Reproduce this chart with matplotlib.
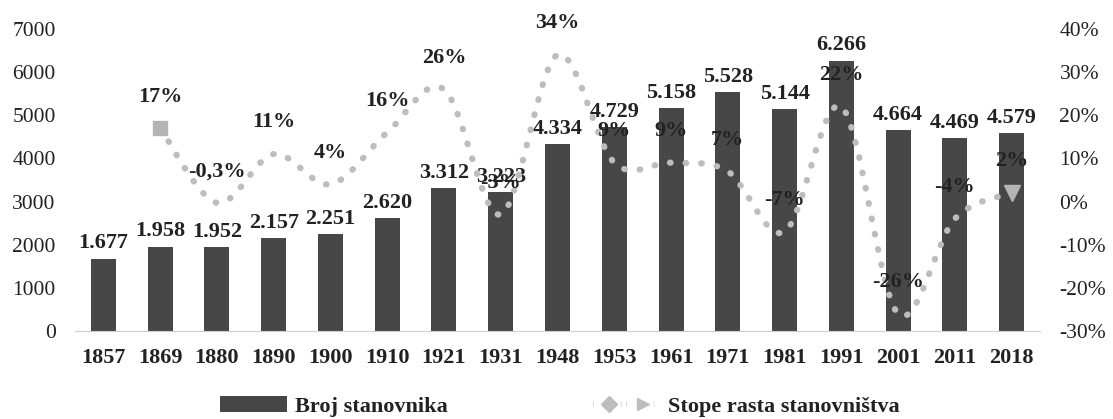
import matplotlib
matplotlib.use('Agg')
import matplotlib.pyplot as plt
from matplotlib.path import Path
from matplotlib.patches import PathPatch, Patch
from matplotlib.lines import Line2D
from matplotlib.legend_handler import HandlerTuple

years = ['1857', '1869', '1880', '1890', '1900', '1910', '1921', '1931', '1948',
         '1953', '1961', '1971', '1981', '1991', '2001', '2011', '2018']
population = [1677, 1958, 1952, 2157, 2251, 2620, 3312, 3223, 4334,
              4729, 5158, 5528, 5144, 6266, 4664, 4469, 4579]
# growth rate, from 1869 on (percent)
growth = [17, -0.3, 11, 4, 16, 26, -3, 34, 9, 9, 7, -7, 22, -26, -4, 2]
growth_labels = ['17%', '-0,3%', '11%', '4%', '16%', '26%', '-3%', '34%', '9%',
                 '9%', '7%', '-7%', '22%', '-26%', '-4%', '2%']

plt.rcParams['font.family'] = ['Liberation Serif', 'DejaVu Serif']

bar_col = '#474747'
line_col = '#bdbdbd'
dots = (0, (0.1, 2.4))

fig = plt.figure(figsize=(11.13, 4.19), dpi=100)
ax = fig.add_axes([0.0674, 0.21, 0.867, 0.721])
ax2 = ax.twinx()

x = list(range(len(years)))
ax.bar(x, population, width=0.44, color=bar_col, zorder=2)
for xi, v in zip(x, population):
    lbl = '{:,}'.format(v).replace(',', '.')
    ax.text(xi, v + 120, lbl, ha='center', va='bottom', fontsize=16,
            fontweight='bold', color='#222222', zorder=5)

ax.set_ylim(0, 7000)
ax.set_yticks(range(0, 7001, 1000))
ax.set_xlim(-0.5, len(years) - 0.5)
ax.set_xticks(x)
ax.set_xticklabels(years, fontsize=16, fontweight='bold', color='#222222')
ax.tick_params(axis='y', labelsize=15.5, length=0, pad=14, colors='#222222')
ax.tick_params(axis='x', length=0, pad=12)
for s in ['top', 'right', 'left']:
    ax.spines[s].set_visible(False)
ax.spines['bottom'].set_color('#d0d0d0')

ax2.set_ylim(-30, 40)
ax2.set_yticks(range(-30, 41, 10))
ax2.set_yticklabels(['{}%'.format(t) for t in range(-30, 41, 10)])
ax2.tick_params(axis='y', labelsize=15.5, length=0, pad=14, colors='#222222')
for s in ax2.spines.values():
    s.set_visible(False)

# smooth line through the growth rates (Catmull-Rom -> bezier)
gx = x[1:]
pts = list(zip(gx, growth))
verts = [pts[0]]
codes = [Path.MOVETO]
n = len(pts)
for i in range(n - 1):
    p0 = pts[max(i - 1, 0)]
    p1 = pts[i]
    p2 = pts[i + 1]
    p3 = pts[min(i + 2, n - 1)]
    c1 = (p1[0] + (p2[0] - p0[0]) / 6, p1[1] + (p2[1] - p0[1]) / 6)
    c2 = (p2[0] - (p3[0] - p1[0]) / 6, p2[1] - (p3[1] - p1[1]) / 6)
    verts += [c1, c2, p2]
    codes += [Path.CURVE4, Path.CURVE4, Path.CURVE4]
curve = PathPatch(Path(verts, codes), facecolor='none', edgecolor=line_col,
                  linewidth=4.5, linestyle=dots, capstyle='round', zorder=3)
ax2.add_patch(curve)
ax2.plot(gx[0], growth[0], marker='s', markersize=10, color='#b4b4b4', zorder=4)
ax2.plot(gx[-1], growth[-1], marker='v', markersize=11, color='#b4b4b4', zorder=4)

for xi, g, lbl in zip(gx, growth, growth_labels):
    ax2.text(xi, g + 5, lbl, ha='center', va='bottom', fontsize=16,
             fontweight='bold', color='#222222', zorder=5)

h_bar = Patch(facecolor=bar_col)
h_a = Line2D([0], [0], color=line_col, linewidth=4, linestyle=dots,
             marker='D', markersize=8)
h_b = Line2D([0], [0], color=line_col, linewidth=4, linestyle=dots,
             marker='>', markersize=9)
fig.legend(handles=[h_bar, (h_a, h_b)],
           labels=['Broj stanovnika', 'Stope rasta stanovništva'],
           handler_map={tuple: HandlerTuple(ndivide=None, pad=0)},
           loc='center', bbox_to_anchor=(0.503, 0.03), ncol=2, frameon=False,
           columnspacing=6.5, handlelength=3.0, handletextpad=0.4,
           prop={'size': 16, 'weight': 'bold'}, labelcolor='#222222')

fig.savefig('out.png', dpi=100, facecolor='white')
